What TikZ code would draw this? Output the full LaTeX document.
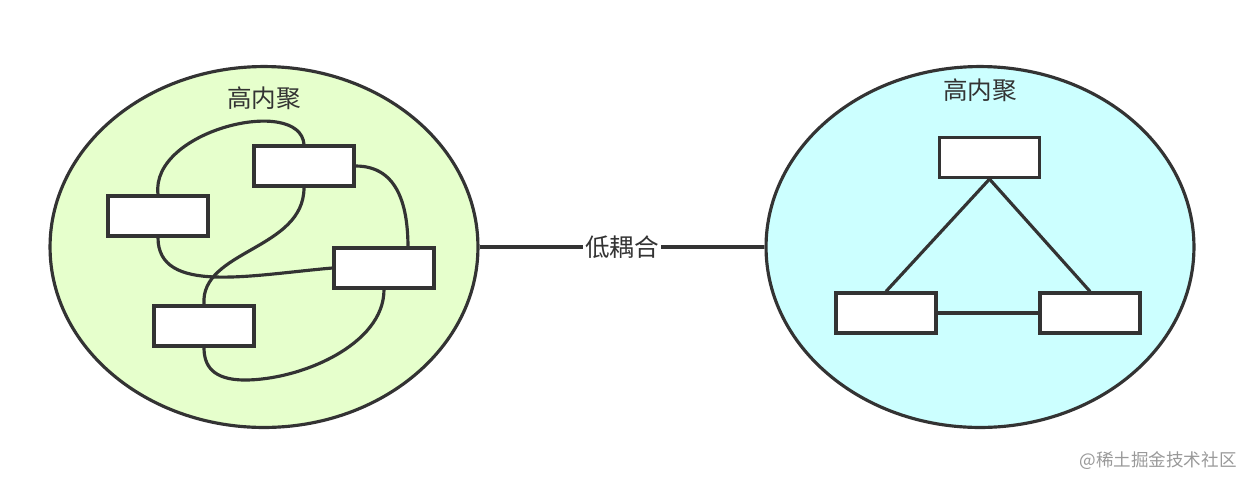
\documentclass[tikz,border=0pt]{standalone}
\usepackage{fontspec}
\usetikzlibrary{shapes.geometric}
\setmainfont{Noto Sans CJK SC}
\begin{document}
\begin{tikzpicture}[x=0.02cm,y=-0.02cm,
  ln/.style={draw=black!80,line width=1.8pt},
  bx/.style={ln,fill=white,minimum width=2cm,minimum height=0.8cm,inner sep=0pt},
  lbl/.style={text=black!80,font=\fontsize{14}{16}\selectfont}]
\useasboundingbox (0,0) rectangle (1244,478);
\node[ln,fill={rgb,255:red,230;green,255;blue,204},ellipse,minimum width=8.56cm,minimum height=7.22cm,inner sep=0pt] (E1) at (264,247) {};
\node[ln,fill={rgb,255:red,204;green,255;blue,255},ellipse,minimum width=8.56cm,minimum height=7.22cm,inner sep=0pt] (E2) at (980,247) {};
\draw[ln] (E1.east) -- node[lbl,fill=white,inner sep=1pt] (lc) {低耦合} (E2.west);
\node[lbl] (t1) at (264,98) {高内聚};
\node[lbl] (t2) at (980,90) {高内聚};
\node[bx] (A) at (158,216) {};
\node[bx] (B) at (304,166) {};
\node[bx] (C) at (384,268) {};
\node[bx] (D) at (204,326) {};
\coordinate (Ct) at (408,248);
\draw[ln] (A.north) .. controls (150,130) and (300,95) .. (B.north);
\draw[ln] (B.east) .. controls (400,166) and (408,210) .. (Ct);
\draw[ln] (B.south) .. controls (304,250) and (200,250) .. (D.north);
\draw[ln] (A.south) .. controls (158,295) and (250,275) .. (C.west);
\draw[ln] (C.south) .. controls (384,345) and (300,380) .. (245,380) .. controls (212,380) and (204,365) .. (D.south);
\node[bx] (T) at (989.5,157.5) {};
\node[bx] (L) at (886,313) {};
\node[bx] (R) at (1090,313) {};
\draw[ln] (T.south) -- (L.north);
\draw[ln] (T.south) -- (R.north);
\draw[ln] (L.east) -- (R.west);
\node[text=black!40,font=\fontsize{10}{11}\selectfont] (wm) at (1158,461) {@稀土掘金技术社区};
\end{tikzpicture}
\end{document}
